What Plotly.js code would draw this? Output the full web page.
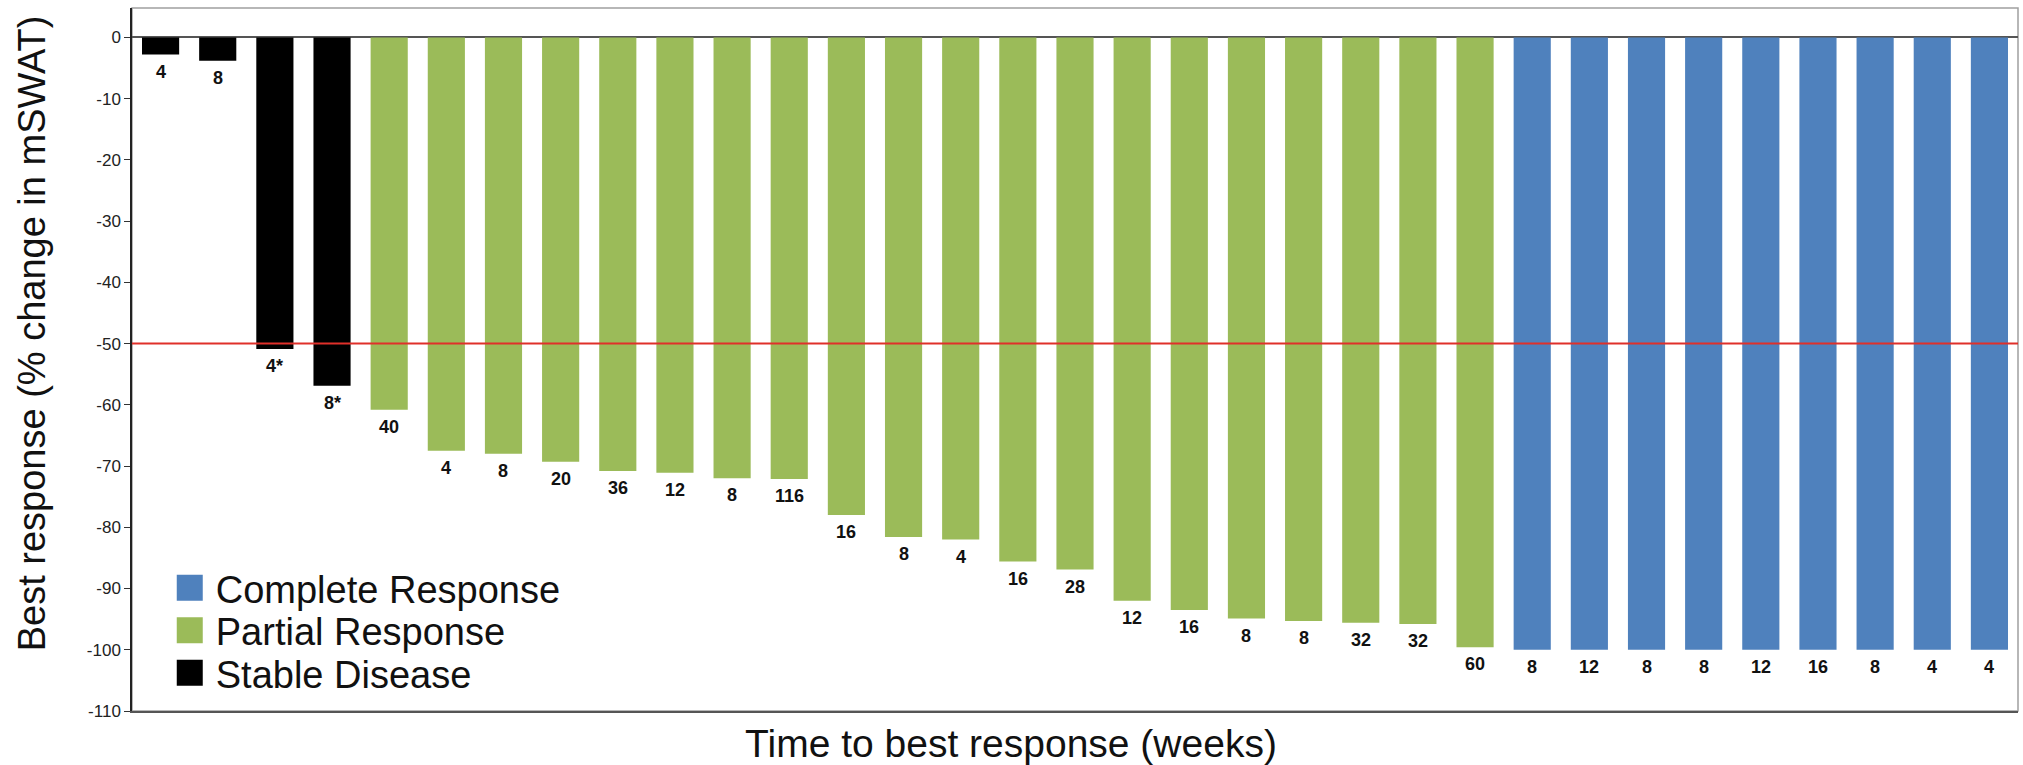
<!DOCTYPE html>
<html><head><meta charset="utf-8">
<script src="https://cdn.plot.ly/plotly-3.0.1.min.js"></script>
<style>html,body{margin:0;padding:0;background:#fff;} #chart{width:2023px;height:765px;}</style>
</head><body><div id="chart"></div>
<script>
// ---- data ----
const STABLE_VALUES = [-2.8, -3.8, -50.9, -56.9];
const STABLE_WEEKS  = ['4', '8', '4*', '8*'];
const PARTIAL_VALUES = [-60.8, -67.5, -68.0, -69.3, -70.8, -71.1, -72.0, -72.1, -78.0, -81.6,
                        -82.0, -85.6, -86.9, -92.0, -93.5, -94.9, -95.3, -95.6, -95.8, -99.6];
const PARTIAL_WEEKS  = ['40', '4', '8', '20', '36', '12', '8', '116', '16', '8',
                        '4', '16', '28', '12', '16', '8', '8', '32', '32', '60'];
const COMPLETE_VALUES = [-100, -100, -100, -100, -100, -100, -100, -100, -100];
const COMPLETE_WEEKS  = ['8', '12', '8', '8', '12', '16', '8', '4', '4'];
const Y_TICKS = [0, -10, -20, -30, -40, -50, -60, -70, -80, -90, -100, -110];
const THRESHOLD = -50;

const FONT = 'Liberation Sans, Arial, Helvetica, sans-serif';
const LABEL_FONT = 'Liberation Sans, Arial, sans-serif';

const groups = [
  {name: 'Stable Disease',    values: STABLE_VALUES,   weeks: STABLE_WEEKS,   color: '#000000'},
  {name: 'Partial Response',  values: PARTIAL_VALUES,  weeks: PARTIAL_WEEKS,  color: '#9bbb59'},
  {name: 'Complete Response', values: COMPLETE_VALUES, weeks: COMPLETE_WEEKS, color: '#4f81bd'}
];

let offset = 0;
const traces = [];
const annotations = [];
groups.forEach(g => {
  const xs = g.values.map((_, i) => offset + i);
  offset += g.values.length;
  traces.push({type: 'bar', name: g.name, x: xs, y: g.values,
               marker: {color: g.color}, hovertemplate: '%{y}<extra>' + g.name + '</extra>'});
  xs.forEach((x, i) => annotations.push({
    x: x, y: g.values[i], xref: 'x', yref: 'y', text: '<b>' + g.weeks[i] + '</b>',
    showarrow: false, yanchor: 'top', yshift: -5,
    font: {family: LABEL_FONT, size: 18, color: '#111'}
  }));
});
const total = offset;

const layout = {
  width: 2023, height: 765,
  margin: {l: 132, r: 5, t: 8, b: 54},
  paper_bgcolor: '#fff', plot_bgcolor: '#fff',
  font: {family: FONT, color: '#111'},
  barmode: 'overlay', bargap: 0.35,
  showlegend: true,
  legend: {x: 0.0232, xanchor: 'left', y: 0.235, yanchor: 'top', traceorder: 'reversed',
           font: {family: FONT, size: 38, color: '#111'}, bgcolor: 'rgba(0,0,0,0)'},
  xaxis: {range: [-0.5, total - 0.5], showticklabels: false, ticks: '', showgrid: false,
          zeroline: false, showline: true, linecolor: '#555', linewidth: 1.5,
          title: {text: 'Time to best response (weeks)', font: {family: FONT, size: 39, color: '#111'}, standoff: 20},
          automargin: false},
  yaxis: {range: [-110, 4.8], tickvals: Y_TICKS, ticktext: Y_TICKS.map(String),
          ticks: 'outside', ticklen: 6, tickcolor: '#333', tickwidth: 1.2,
          tickfont: {family: FONT, size: 17, color: '#222'},
          showline: true, linecolor: '#222', linewidth: 1.5, showgrid: false,
          zeroline: true, zerolinecolor: '#555', zerolinewidth: 1.5,
          title: {text: 'Best response (% change in mSWAT)', font: {family: FONT, size: 38, color: '#111'}, standoff: 30},
          automargin: false},
  shapes: [
    {type: 'rect', xref: 'paper', yref: 'paper', x0: 0, x1: 1, y0: 0, y1: 1,
     line: {color: '#a0a0a0', width: 1.5}, layer: 'below'},
    {type: 'line', xref: 'paper', yref: 'y', x0: 0, x1: 1, y0: THRESHOLD, y1: THRESHOLD,
     line: {color: '#e0302a', width: 2}}
  ],
  annotations: annotations
};

Plotly.newPlot('chart', traces, layout, {displayModeBar: false}).then(gd => {
  // legend: larger square swatches and tighter rows, as in the reference
  const items = gd.querySelectorAll('.legend .traces');
  items.forEach((it, i) => {
    it.setAttribute('transform', 'translate(0,' + (42 + i * 42.5) + ')');
    const txt = it.querySelector('.legendtext');
    const tx = txt ? parseFloat(txt.getAttribute('x')) || 40 : 40;
    it.querySelectorAll('.legendpoints path').forEach(p => {
      const bb = p.getBBox();
      const cy = bb.y + bb.height / 2;
      p.removeAttribute('transform');
      p.setAttribute('d', 'M' + (tx - 39) + ',' + (cy - 13) + 'h26v26h-26Z');
    });
  });
  // axis titles positioned as in the reference
  const xt = gd.querySelector('.g-xtitle text');
  if (xt) xt.setAttribute('x', 1011);
  const yt = gd.querySelector('.g-ytitle text');
  if (yt) {
    const x = parseFloat(yt.getAttribute('x')), y = parseFloat(yt.getAttribute('y')) - 26;
    yt.setAttribute('y', y);
    yt.setAttribute('transform', 'rotate(-90,' + x + ',' + y + ')');
  }
});
</script></body></html>
